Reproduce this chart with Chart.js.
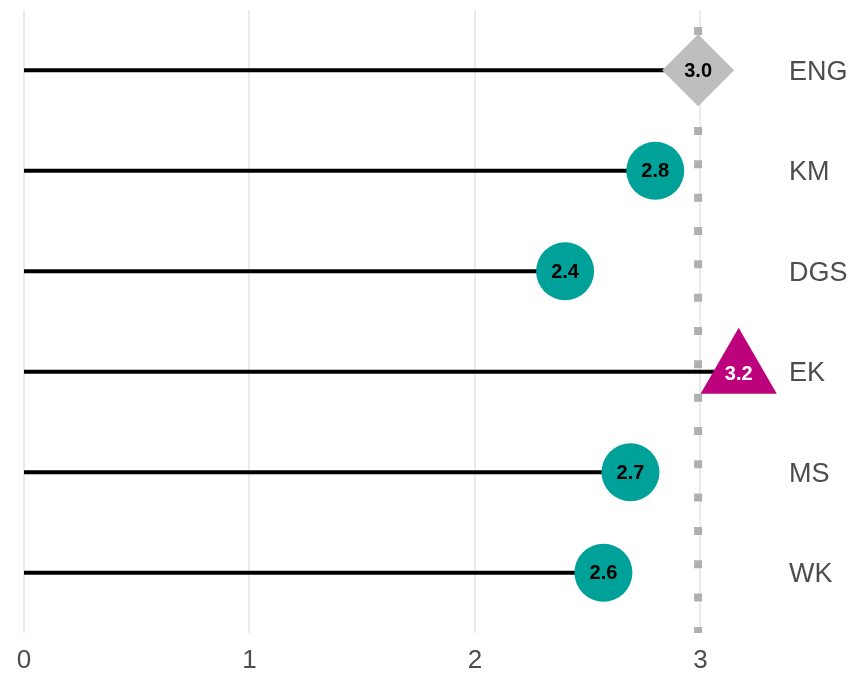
<!DOCTYPE html>
<html>
<head>
<meta charset="utf-8">
<script src="https://cdn.jsdelivr.net/npm/chart.js@4"></script>
<style>
  html, body { margin: 0; padding: 0; background: #fff; }
  #wrap { width: 866px; height: 678px; }
</style>
</head>
<body>
<div id="wrap"><canvas id="lollipop"></canvas></div>
<script>
// areas, top to bottom; ENG is the comparator
var categories = ['ENG', 'KM', 'DGS', 'EK', 'MS', 'WK'];
var values = [2.99, 2.8, 2.4, 3.17, 2.69, 2.57];
var xTicks = [0, 1, 2, 3];

var refValue = values[0];
var FONT = "'Liberation Sans', Arial, sans-serif";

// marker look depends on the comparator / above-comparator
function markerFor(i) {
    if (i === 0) return { style: 'rectRot', radius: 36, color: '#bebebe', text: '#000' };
    if (values[i] > refValue) return { style: 'triangle', radius: 44, color: '#bd007b', text: '#fff' };
    return { style: 'circle', radius: 29, color: '#00a199', text: '#000' };
}
var markers = categories.map(function(c, i) { return markerFor(i); });

var pointData = values.map(function(v, i) { return { x: v, y: i }; });

var datasets = [{
    // markers first so they sit on top
    data: pointData,
    pointStyle: markers.map(function(m) { return m.style; }),
    pointRadius: markers.map(function(m) { return m.radius; }),
    pointHoverRadius: markers.map(function(m) { return m.radius; }),
    backgroundColor: markers.map(function(m) { return m.color; }),
    borderWidth: 0,
    showLine: false,
    clip: false
}];

// stems from 0 to each value
values.forEach(function(v, i) {
    datasets.push({
        data: [{ x: 0, y: i }, { x: v, y: i }],
        showLine: true,
        borderColor: '#000',
        borderWidth: 4,
        pointRadius: 0,
        clip: false
    });
});

// dotted comparator line
datasets.push({
    data: [{ x: refValue, y: -0.6 }, { x: refValue, y: 5.6 }],
    showLine: true,
    borderColor: '#b0b0b0',
    borderWidth: 8,
    borderDash: [8, 25.33],
    borderDashOffset: 16.33,
    pointRadius: 0
});

var valueLabels = {
    id: 'valueLabels',
    afterDatasetsDraw: function(chart) {
        var ctx = chart.ctx;
        var meta = chart.getDatasetMeta(0);
        ctx.save();
        ctx.font = 'bold 20px ' + FONT;
        ctx.textAlign = 'center';
        ctx.textBaseline = 'middle';
        meta.data.forEach(function(pt, i) {
            ctx.fillStyle = markers[i].text;
            var dy = markers[i].style === 'triangle' ? 3 : 1;
            ctx.fillText(values[i].toFixed(1), pt.x, pt.y + dy);
        });
        ctx.restore();
    }
};

var chart = new Chart(document.getElementById('lollipop'), {
    type: 'scatter',
    data: { datasets: datasets },
    options: {
        responsive: true,
        maintainAspectRatio: false,
        animation: false,
        events: [],
        layout: { autoPadding: false, padding: { left: 24, top: 10, right: 0, bottom: 0 } },
        plugins: {
            legend: { display: false },
            tooltip: { enabled: false }
        },
        scales: {
            x: {
                type: 'linear',
                min: 0,
                max: 3.3,
                afterBuildTicks: function(axis) {
                    axis.ticks = xTicks.map(function(t) { return { value: t }; });
                },
                afterFit: function(axis) {
                    axis.height = 45;
                    axis.paddingLeft = 0;
                    axis.paddingRight = 0;
                },
                grid: { color: '#ebebeb', lineWidth: 2, drawTicks: false },
                border: { display: false },
                ticks: {
                    color: '#4d4d4d',
                    font: { family: FONT, size: 26 },
                    padding: 12,
                    maxRotation: 0
                }
            },
            y: {
                type: 'linear',
                position: 'right',
                reverse: true,
                min: -0.6,
                max: 5.6,
                afterBuildTicks: function(axis) {
                    axis.ticks = categories.map(function(c, i) { return { value: i }; });
                },
                afterFit: function(axis) {
                    axis.width = 98;
                    axis.paddingTop = 0;
                    axis.paddingBottom = 0;
                },
                grid: { display: false, drawTicks: false },
                border: { display: false },
                ticks: {
                    color: '#4d4d4d',
                    font: { family: FONT, size: 27 },
                    padding: 21,
                    labelOffset: 2,
                    callback: function(v) { return categories[v]; }
                }
            }
        }
    },
    plugins: [valueLabels]
});
</script>
</body>
</html>
